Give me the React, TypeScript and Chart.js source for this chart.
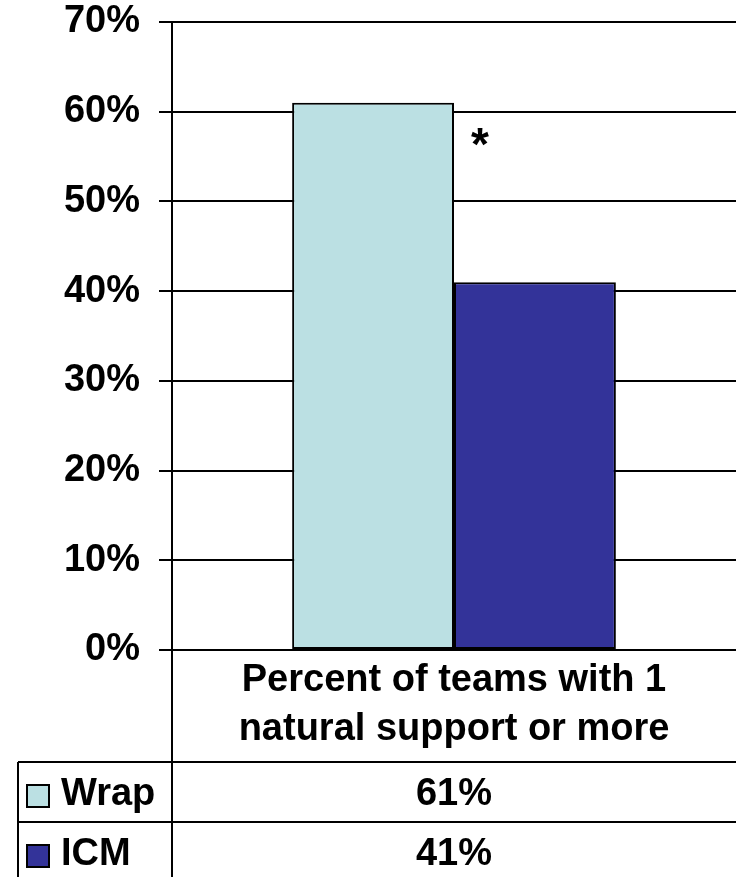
import React, { useEffect, useRef } from "react";
import { Chart, registerables } from "chart.js";

Chart.register(...registerables);

// Category label, split over two lines as drawn under the plot
const categoryLines: string[][] = [["Percent of teams with 1", "natural support or more"]];
const seriesNames = ["Wrap", "ICM"];
const wrapValues = [61];
const icmValues = [41];
const seriesColors = ["#BBE0E3", "#333399"];
const yMax = 70;
const yStep = 10;
const significanceMark = "*";

const FONT_FAMILY = "'Liberation Sans', Arial, Helvetica, sans-serif";
const FONT_SIZE = 38;

const seriesValues = [wrapValues, icmValues];

// Draws the category caption, the data table with legend keys and the significance mark
const dataTablePlugin = {
  id: "dataTable",
  afterDraw(chart: any) {
    const { ctx, chartArea } = chart;
    const xScale = chart.scales.x;
    const left = chartArea.left;
    const right = chart.width;
    const bottom = chartArea.bottom;
    const tableTop = bottom + 112;
    const rowH = 60;
    const keyLeft = 18;

    ctx.save();
    ctx.strokeStyle = "#000";
    ctx.lineWidth = 2;
    const line = (x1: number, y1: number, x2: number, y2: number) => {
      ctx.beginPath();
      ctx.moveTo(x1, y1);
      ctx.lineTo(x2, y2);
      ctx.stroke();
    };

    // axis line continues down through the table
    line(left, bottom, left, chart.height);
    line(keyLeft, tableTop, keyLeft, chart.height);
    seriesNames.forEach((_, r) => {
      const yy = tableTop + r * rowH;
      line(keyLeft, yy, right, yy);
    });

    ctx.font = `bold ${FONT_SIZE}px ${FONT_FAMILY}`;
    ctx.fillStyle = "#000";
    ctx.textAlign = "center";
    ctx.textBaseline = "middle";
    categoryLines.forEach((lines, i) => {
      const cx = xScale.getPixelForValue(i);
      lines.forEach((t, j) => ctx.fillText(t, cx, bottom + 31 + j * 49));
    });

    seriesNames.forEach((name, r) => {
      const rowTop = tableTop + r * rowH;
      const cy = rowTop + 33;
      // legend key
      ctx.fillStyle = seriesColors[r];
      ctx.fillRect(27, cy - 10, 22, 22);
      ctx.lineWidth = 2;
      ctx.strokeRect(27, cy - 10, 22, 22);
      ctx.fillStyle = "#000";
      ctx.textAlign = "left";
      ctx.fillText(name, 61, cy);
      ctx.textAlign = "center";
      seriesValues[r].forEach((v, i) => {
        ctx.fillText(`${v}%`, xScale.getPixelForValue(i), cy);
      });
    });

    // significance mark beside the taller bar
    const bar = chart.getDatasetMeta(0).data[0];
    if (bar) {
      ctx.textAlign = "center";
      ctx.textBaseline = "alphabetic";
      ctx.font = `bold 46px ${FONT_FAMILY}`;
      ctx.fillText(significanceMark, bar.x + bar.width / 2 + 26, bar.y + 57);
    }
    ctx.restore();
  },
};

export default function App() {
  const canvasRef = useRef<HTMLCanvasElement | null>(null);

  useEffect(() => {
    const canvas = canvasRef.current;
    if (!canvas) return;
    const chart = new Chart(canvas, {
      type: "bar",
      data: {
        labels: categoryLines.map((l) => l.join(" ")),
        datasets: seriesNames.map((name, i) => ({
          label: name,
          data: seriesValues[i],
          backgroundColor: seriesColors[i],
          borderColor: "#000",
          borderWidth: 2,
          borderSkipped: false,
          categoryPercentage: 0.574,
          barPercentage: 1,
        })),
      },
      options: {
        responsive: false,
        animation: false,
        devicePixelRatio: 1,
        layout: { padding: { top: 22, left: 0, right: 0, bottom: 0 } },
        plugins: {
          legend: { display: false },
          tooltip: { enabled: false },
        },
        scales: {
          x: {
            grid: { display: false },
            border: { display: false },
            ticks: { display: false },
            afterFit: (s: any) => {
              s.height = 227;
            },
          },
          y: {
            min: 0,
            max: yMax,
            ticks: {
              stepSize: yStep,
              callback: (v: any) => `${v}%`,
              color: "#000",
              padding: 19,
              font: { family: FONT_FAMILY, size: FONT_SIZE, weight: "bold" },
            },
            grid: { color: "#000", lineWidth: 2, tickLength: 13, tickColor: "#000" },
            border: { color: "#000", width: 2 },
            afterFit: (s: any) => {
              s.width = 172;
              s.paddingTop = 0;
              s.paddingBottom = 0;
            },
          },
        },
      },
      plugins: [dataTablePlugin],
    } as any);
    return () => chart.destroy();
  }, []);

  return (
    <div style={{ position: "absolute", left: 0, top: 0, width: 736, height: 877, background: "#fff" }}>
      <canvas ref={canvasRef} width={736} height={877} style={{ display: "block" }} />
    </div>
  );
}
